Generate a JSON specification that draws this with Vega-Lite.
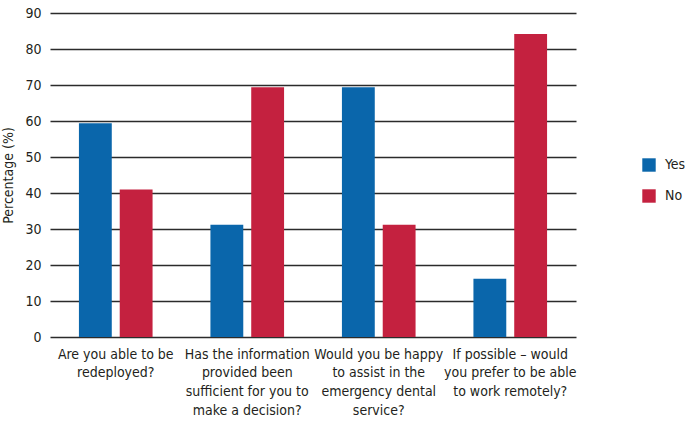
{
  "$schema": "https://vega.github.io/schema/vega-lite/v6.json",
  "autosize": "none",
  "width": 526,
  "height": 324,
  "padding": {"left": 50, "top": 13, "right": 109, "bottom": 85},
  "background": "white",
  "config": {
    "view": {"stroke": null},
    "font": "'DejaVu Sans Condensed', Lato, sans-serif",
    "axis": {"labelFont": "'DejaVu Sans Condensed', Lato, sans-serif", "titleFont": "'DejaVu Sans Condensed', Lato, sans-serif", "labelColor": "#231f20", "titleColor": "#231f20"},
    "legend": {"labelFont": "'DejaVu Sans Condensed', Lato, sans-serif"}
  },
  "data": {
    "values": [
      {"question": "Are you able to be|redeployed?", "answer": "Yes", "pct": 59.4},
      {"question": "Are you able to be|redeployed?", "answer": "No", "pct": 41.0},
      {"question": "Has the information|provided been|sufficient for you to|make a decision?", "answer": "Yes", "pct": 31.2},
      {"question": "Has the information|provided been|sufficient for you to|make a decision?", "answer": "No", "pct": 69.4},
      {"question": "Would you be happy|to assist in the|emergency dental|service?", "answer": "Yes", "pct": 69.4},
      {"question": "Would you be happy|to assist in the|emergency dental|service?", "answer": "No", "pct": 31.2},
      {"question": "If possible – would|you prefer to be able|to work remotely?", "answer": "Yes", "pct": 16.2},
      {"question": "If possible – would|you prefer to be able|to work remotely?", "answer": "No", "pct": 84.2}
    ]
  },
  "mark": {"type": "bar"},
  "encoding": {
    "x": {
      "field": "question",
      "type": "nominal",
      "sort": null,
      "scale": {"paddingInner": 0.44, "paddingOuter": 0.22},
      "axis": {
        "title": null,
        "labelAngle": 0,
        "ticks": false,
        "domain": false,
        "labelPadding": 10,
        "labelFontSize": 14,
        "labelLineHeight": 18.7,
        "labelBaseline": "top",
        "labelLimit": 200,
        "labelExpr": "split(datum.label, '|')"
      }
    },
    "xOffset": {
      "field": "answer",
      "type": "nominal",
      "sort": ["Yes", "No"],
      "scale": {"paddingInner": 0.195, "paddingOuter": 0}
    },
    "y": {
      "field": "pct",
      "type": "quantitative",
      "scale": {"domain": [0, 90]},
      "axis": {
        "title": "Percentage (%)",
        "titleFontWeight": "normal",
        "titleFontSize": 14,
        "titlePadding": 9,
        "values": [0, 10, 20, 30, 40, 50, 60, 70, 80, 90],
        "ticks": false,
        "domain": false,
        "labelPadding": 9,
        "labelFontSize": 14,
        "gridColor": "#2b2b2b",
        "gridWidth": 1.5,
        "gridOpacity": 1
      }
    },
    "color": {
      "field": "answer",
      "type": "nominal",
      "sort": ["Yes", "No"],
      "scale": {"domain": ["Yes", "No"], "range": ["#0a66ab", "#c4213f"]},
      "legend": {
        "title": null,
        "orient": "none",
        "legendX": 592,
        "legendY": 145,
        "symbolType": "square",
        "symbolSize": 180,
        "symbolStrokeWidth": 0,
        "labelFontSize": 14,
        "labelColor": "#231f20",
        "rowPadding": 17,
        "labelOffset": 9
      }
    }
  }
}
